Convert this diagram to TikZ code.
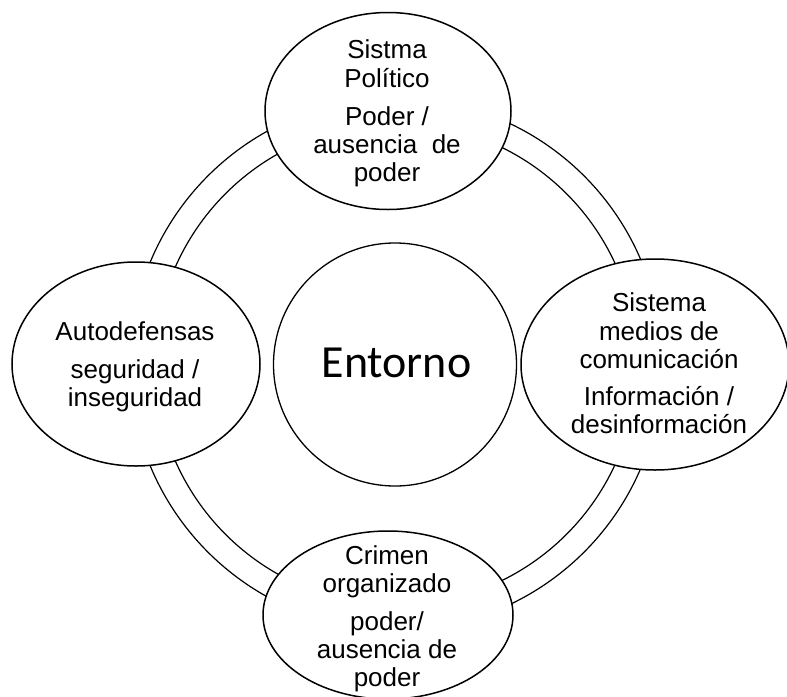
\documentclass[tikz,border=0pt]{standalone}
\usepackage{fontspec}
\setmainfont{Liberation Sans}
\newfontfamily\calibrifont{Carlito}
\usetikzlibrary{shapes.geometric}
\begin{document}
\begin{tikzpicture}[x=1pt,y=-1pt,
  bubble/.style={draw, line width=1.5pt, fill=white, ellipse, inner sep=0pt},
  ringline/.style={line width=1.2pt},
  lbl/.style={anchor=base, inner sep=0pt, font=\fontsize{26}{29}\selectfont},
  ]
\useasboundingbox (0,0) rectangle (787,696);
\fill[white] (0,0) rectangle (787,696);
% ring
\coordinate (c) at (396,364);
\draw[ringline] (c) circle[radius=266];
\draw[ringline] (c) circle[radius=241];
% bubbles
\node[bubble, minimum width=246pt, minimum height=197pt] (top) at (388,111) {};
\node[bubble, minimum width=248pt, minimum height=204pt] (left) at (136,364) {};
\node[bubble, minimum width=268pt, minimum height=211pt] (right) at (655,364.5) {};
\node[bubble, minimum width=250pt, minimum height=168pt] (bottom) at (388,615) {};
\node[draw, circle, line width=1.3pt, minimum size=243pt, inner sep=0pt] (env) at (395,364.5) {};
% texts
\node[anchor=base, inner sep=0pt, font=\calibrifont\fontsize{46}{50}\selectfont] (ent) at (396.5,377) {Entorno};
\node[lbl] (t1) at (387,58) {Sistma};
\node[lbl] (t2) at (387,87) {Político};
\node[lbl] (t3) at (387,125) {Poder /};
\node[lbl] (t4) at (387,153) {ausencia\ \ de};
\node[lbl] (t5) at (387,181) {poder};
\node[lbl] (l1) at (135,340) {Autodefensas};
\node[lbl] (l2) at (135,378) {seguridad /};
\node[lbl] (l3) at (135,406) {inseguridad};
\node[lbl] (r1) at (659,311) {Sistema};
\node[lbl] (r2) at (659,340) {medios de};
\node[lbl] (r3) at (659,368) {comunicación};
\node[lbl] (r4) at (659,405) {Información /};
\node[lbl] (r5) at (659,433) {desinformación};
\node[lbl] (b1) at (387,564) {Crimen};
\node[lbl] (b2) at (387,592) {organizado};
\node[lbl] (b3) at (387,630) {poder/};
\node[lbl] (b4) at (387,658) {ausencia de};
\node[lbl] (b5) at (387,686) {poder};
\end{tikzpicture}
\end{document}
